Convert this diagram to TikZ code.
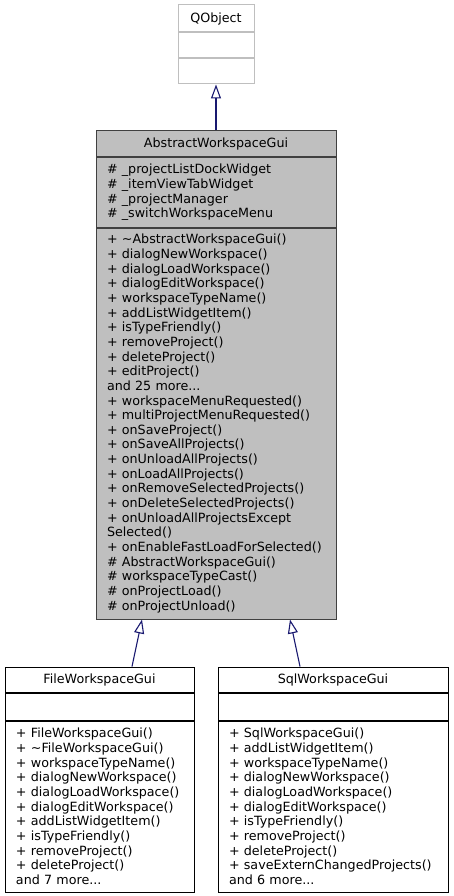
\documentclass[tikz,border=0pt]{standalone}
\usepackage{fontspec}
\setmainfont{DejaVu Sans}
\usetikzlibrary{positioning, calc, arrows.meta}
\definecolor{edgeblue}{RGB}{25, 25, 112}
\definecolor{boxgray}{RGB}{191, 191, 191}
\definecolor{darkline}{RGB}{64, 64, 64}
\definecolor{lightline}{RGB}{191, 191, 191}

\begin{document}
\begin{tikzpicture}[x=1pt, y=-1pt, every node/.style={font={\fontsize{12.7}{14.65}\selectfont\hyphenpenalty=10000\relax}, inner sep=0pt}]
    \tikzstyle{classname} = [draw, rectangle, text centered, line width=1pt]
    \tikzstyle{members} = [draw, rectangle, align=left, anchor=north, inner xsep=11pt, line width=1pt]
    \tikzstyle{inherit} = [draw=edgeblue, line width=1.1pt, -{Triangle[open, length=14pt, width=10pt]}]

    \useasboundingbox (0,0) rectangle (453,896);

    % Nodes
    \node (qobject) [classname, draw=lightline, minimum width=76, minimum height=27] at (216,18.5) {QObject};
    \node (qobject attr) [members, draw=lightline, minimum width=76, minimum height=25] at (qobject.south) {};
    \node (qobject ops) [members, draw=lightline, minimum width=76, minimum height=25] at (qobject attr.south) {};

    \node (abs) [classname, draw=darkline, fill=boxgray, minimum width=240, minimum height=26] at (216,144) {AbstractWorkspaceGui};
    \node (abs attr) [members, draw=darkline, fill=boxgray, text width=218, minimum height=69] at (abs.south) {%
        \# \_projectListDockWidget\\
        \# \_itemViewTabWidget\\
        \# \_projectManager\\
        \# \_switchWorkspaceMenu};
    \node (abs ops) [members, draw=darkline, fill=boxgray, text width=218, minimum height=391] at (abs attr.south) {%
        + \textasciitilde AbstractWorkspaceGui()\\
        + dialogNewWorkspace()\\
        + dialogLoadWorkspace()\\
        + dialogEditWorkspace()\\
        + workspaceTypeName()\\
        + addListWidgetItem()\\
        + isTypeFriendly()\\
        + removeProject()\\
        + deleteProject()\\
        + editProject()\\
        and 25 more...\\
        + workspaceMenuRequested()\\
        + multiProjectMenuRequested()\\
        + onSaveProject()\\
        + onSaveAllProjects()\\
        + onUnloadAllProjects()\\
        + onLoadAllProjects()\\
        + onRemoveSelectedProjects()\\
        + onDeleteSelectedProjects()\\
        + onUnloadAllProjectsExcept\\
        Selected()\\
        + onEnableFastLoadForSelected()\\
        \# AbstractWorkspaceGui()\\
        \# workspaceTypeCast()\\
        \# onProjectLoad()\\
        \# onProjectUnload()};

    \node (file) [classname, minimum width=189, minimum height=25] at (99.5,679.5) {FileWorkspaceGui};
    \node (file attr) [members, minimum width=189, minimum height=27] at (file.south) {};
    \node (file ops) [members, text width=167, minimum height=171] at (file attr.south) {%
        + FileWorkspaceGui()\\
        + \textasciitilde FileWorkspaceGui()\\
        + workspaceTypeName()\\
        + dialogNewWorkspace()\\
        + dialogLoadWorkspace()\\
        + dialogEditWorkspace()\\
        + addListWidgetItem()\\
        + isTypeFriendly()\\
        + removeProject()\\
        + deleteProject()\\
        and 7 more...};

    \node (sql) [classname, minimum width=230, minimum height=25] at (333,679.5) {SqlWorkspaceGui};
    \node (sql attr) [members, minimum width=230, minimum height=27] at (sql.south) {};
    \node (sql ops) [members, text width=208, minimum height=171] at (sql attr.south) {%
        + SqlWorkspaceGui()\\
        + addListWidgetItem()\\
        + workspaceTypeName()\\
        + dialogNewWorkspace()\\
        + dialogLoadWorkspace()\\
        + dialogEditWorkspace()\\
        + isTypeFriendly()\\
        + removeProject()\\
        + deleteProject()\\
        + saveExternChangedProjects()\\
        and 6 more...};

    % Arrows
    \draw [inherit] (abs.north) -- (qobject ops.south);
    \draw [inherit] ([xshift=32.5pt]file.north) -- ([xshift=-74pt]abs ops.south);
    \draw [inherit] ([xshift=-33pt]sql.north) -- ([xshift=74pt]abs ops.south);
\end{tikzpicture}
\end{document}
